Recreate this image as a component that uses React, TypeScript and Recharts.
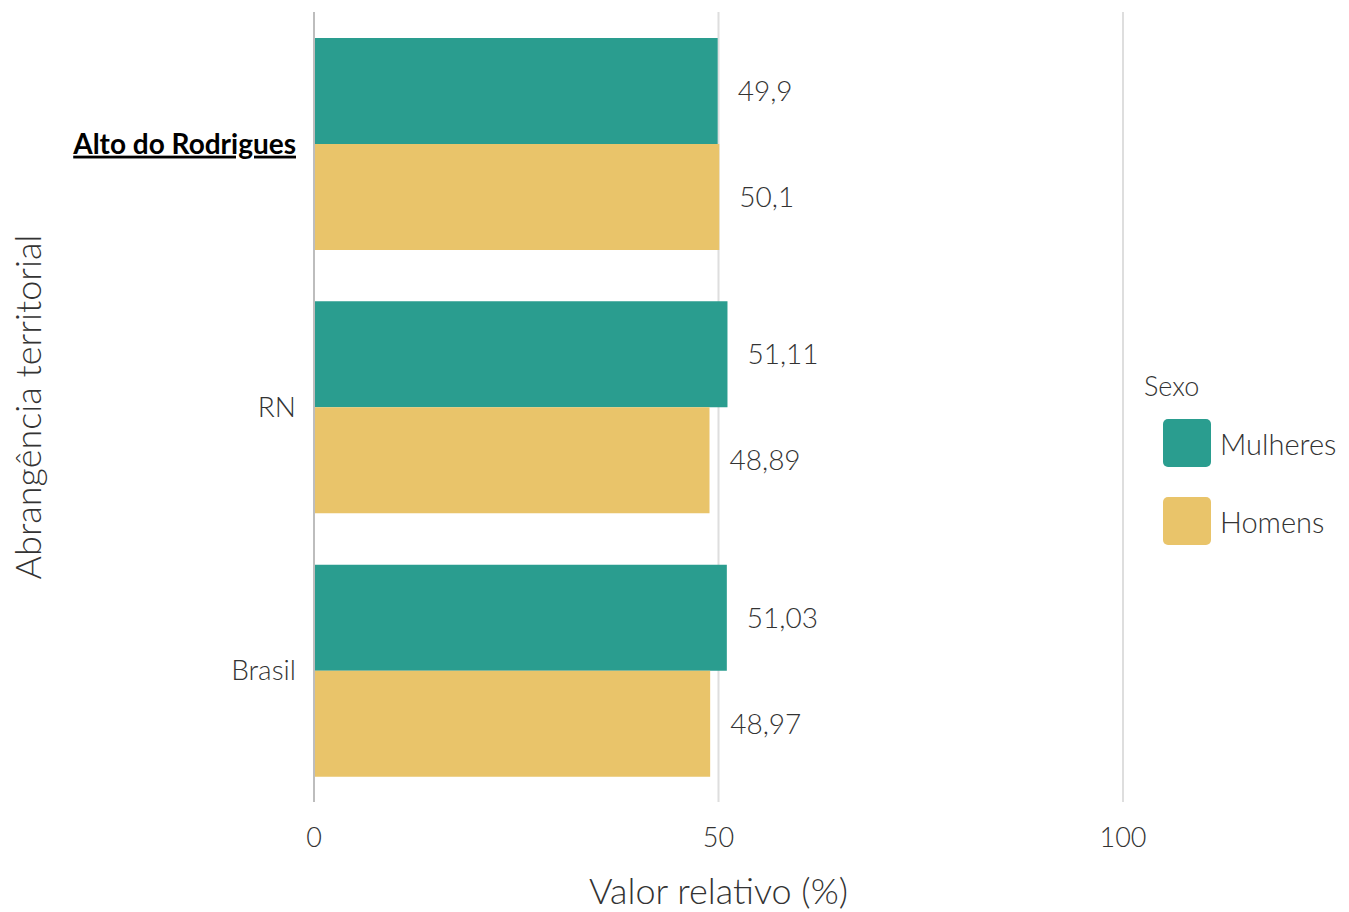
import React from 'react'
import {
  BarChart,
  Bar,
  XAxis,
  YAxis,
  CartesianGrid,
  Legend,
  LabelList,
} from 'recharts'

document.body.style.margin = '0'

const categories = ['Alto do Rodrigues', 'RN', 'Brasil']
const mulheres = [49.9, 51.11, 51.03]
const homens = [50.1, 48.89, 48.97]
const xTicks = [0, 50, 100]
const legendOrder = ['Mulheres', 'Homens']

const COLORS = {
  mulheres: '#2A9D8F',
  homens: '#E9C46A',
  axis: '#BDBDBD',
  grid: '#DEDEDE',
  text: '#333333',
}

const FONT = "Lato, 'Open Sans', sans-serif"

const data = categories.map((c, i) => ({
  territorio: c,
  Mulheres: mulheres[i],
  Homens: homens[i],
}))

const fmt = (v: number) => String(v).replace('.', ',')

// y tick: the municipality is highlighted bold + underlined
function TerritoryTick(props: any) {
  const { x, y, payload } = props
  const highlight = payload.value === categories[0]
  return (
    <text
      x={x}
      y={y}
      dy={10}
      textAnchor="end"
      fontFamily={FONT}
      fontSize={28}
      fontWeight={highlight ? 700 : 300}
      fill={highlight ? '#000' : COLORS.text}
      textDecoration={highlight ? 'underline' : undefined}
    >
      {payload.value}
    </text>
  )
}

function SexoLegend({ payload }: any) {
  const items = legendOrder
    .map((n) => (payload || []).find((p: any) => p.value === n))
    .filter(Boolean)
  return (
    <div style={{ fontFamily: FONT, fontWeight: 300, color: COLORS.text }}>
      <div style={{ fontSize: 27, lineHeight: '36px', marginBottom: 15 }}>Sexo</div>
      {items.map((p: any) => (
        <div
          key={p.value}
          style={{ display: 'flex', alignItems: 'center', marginLeft: 19, marginBottom: 30 }}
        >
          <div
            style={{
              width: 48,
              height: 48,
              borderRadius: 5,
              background: p.color,
              marginRight: 9,
            }}
          />
          <span style={{ fontSize: 29 }}>{p.value}</span>
        </div>
      ))}
    </div>
  )
}

const labelStyle = { fontFamily: FONT, fontSize: 28, fontWeight: 300, fill: COLORS.text }

export default function App() {
  return (
    <BarChart
      width={1349}
      height={912}
      data={data}
      layout="vertical"
      margin={{ top: 12, right: 226, bottom: 0, left: 0 }}
      barCategoryGap={26}
      barGap={0}
    >
      <CartesianGrid horizontal={false} stroke={COLORS.grid} strokeWidth={2} />
      <XAxis
        type="number"
        domain={[0, 100]}
        ticks={xTicks}
        axisLine={false}
        tickLine={false}
        height={110}
        tickMargin={20}
        tick={{ fontFamily: FONT, fontSize: 27, fontWeight: 300, fill: COLORS.text }}
        label={{
          value: 'Valor relativo (%)',
          position: 'insideBottom',
          offset: 0,
          dy: -8,
          style: { fontFamily: FONT, fontSize: 36, fontWeight: 300, fill: COLORS.text },
        }}
      />
      <YAxis
        type="category"
        dataKey="territorio"
        width={314}
        axisLine={{ stroke: COLORS.axis, strokeWidth: 2 }}
        tickLine={false}
        tickMargin={12}
        tick={<TerritoryTick />}
        label={{
          value: 'Abrangência territorial',
          angle: -90,
          position: 'insideLeft',
          offset: 28,
          style: {
            fontFamily: FONT,
            fontSize: 36,
            fontWeight: 300,
            fill: COLORS.text,
            textAnchor: 'middle',
          },
        }}
      />
      <Legend
        layout="vertical"
        align="center"
        verticalAlign="middle"
        content={<SexoLegend />}
        wrapperStyle={{ left: 1144, top: 368, width: 205 }}
      />
      <Bar dataKey="Mulheres" name="Mulheres" fill={COLORS.mulheres} isAnimationActive={false}>
        <LabelList dataKey="Mulheres" position="right" offset={20} formatter={fmt} style={labelStyle} />
      </Bar>
      <Bar dataKey="Homens" name="Homens" fill={COLORS.homens} isAnimationActive={false}>
        <LabelList dataKey="Homens" position="right" offset={20} formatter={fmt} style={labelStyle} />
      </Bar>
    </BarChart>
  )
}
